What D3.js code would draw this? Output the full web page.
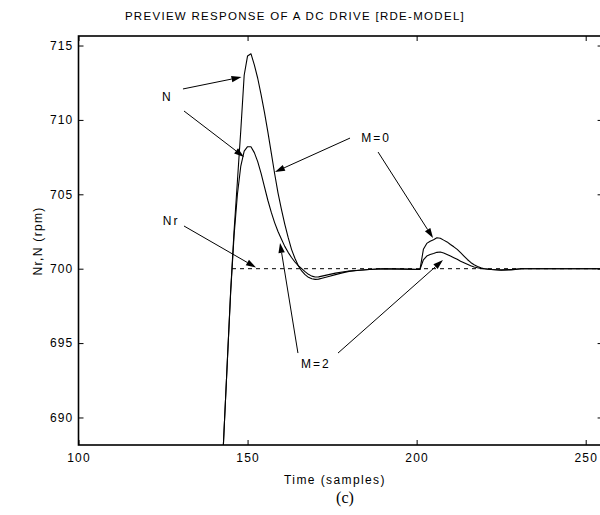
<!DOCTYPE html>
<html>
<head>
<meta charset="utf-8">
<script src="https://cdn.jsdelivr.net/npm/d3@7"></script>
<style>
  body { margin: 0; background: #fff; }
  text { font-family: "Liberation Sans", Arial, sans-serif; fill: #000; }
</style>
</head>
<body>
<svg id="chart" width="600" height="515"></svg>
<script>
// Sample instants (samples) shared by both responses
const sampleTimes = [136, 138, 140, 142, 143, 144, 145, 146, 147, 148, 149, 150, 151, 152, 153, 154, 155, 156, 157, 158, 159, 160,
  161, 162, 163, 164, 165, 166, 167, 168, 169, 170, 171, 172, 174, 176, 178, 180, 183, 186, 190, 196, 201, 202, 203, 204, 205,
  206, 207, 208, 209, 210, 211, 212, 213, 214, 215, 216, 217, 218, 219, 220, 222, 225, 228, 231, 255];

// Motor speed N (rpm), preview horizon M = 0
const speedM0 = [655, 665, 675, 684.0, 688.9, 693.7, 698.5, 702.5, 705.9, 709.3, 713.0, 714.3, 714.45, 713.7, 712.8, 711.7, 710.5,
  709.2, 707.8, 706.4, 705.1, 704.0, 703.0, 702.1, 701.3, 700.7, 700.2, 699.85, 699.6, 699.42, 699.32, 699.28, 699.3, 699.36,
  699.48, 699.6, 699.72, 699.82, 699.9, 699.95, 700.0, 699.97, 699.95, 701.3, 701.7, 701.85, 701.95, 702.08, 702.05, 701.92,
  701.8, 701.63, 701.47, 701.3, 701.08, 700.85, 700.62, 700.42, 700.27, 700.15, 700.06, 700.0, 699.95, 699.9, 699.92, 700.0, 700.0];

// Motor speed N (rpm), preview horizon M = 2
const speedM2 = [655, 665, 675, 684.0, 688.9, 693.7, 698.4, 702.2, 705.0, 706.9, 707.9, 708.2, 708.2, 707.8, 707.2, 706.4, 705.5,
  704.6, 703.8, 703.1, 702.5, 702.0, 701.5, 701.1, 700.75, 700.45, 700.2, 700.0, 699.8, 699.62, 699.5, 699.44, 699.45, 699.5,
  699.6, 699.7, 699.78, 699.85, 699.9, 699.95, 700.0, 699.98, 699.95, 700.6, 700.85, 700.95, 701.02, 701.1, 701.12, 701.06,
  700.96, 700.85, 700.74, 700.63, 700.5, 700.4, 700.3, 700.2, 700.12, 700.06, 700.02, 700.0, 699.95, 699.92, 699.95, 700.0, 700.0];

// Speed reference Nr (rpm)
const refTimes = [145.4, 255];
const refSpeed = [700, 700];

const xTickValues = [100, 150, 200, 250];
const yTickValues = [690, 695, 700, 705, 710, 715];

// Callouts: label text with its anchor, arrows in (samples, rpm)
const calloutLabels = ["N", "Nr", "M=0", "M=2"];
const labelTime = [126.3, 127.4, 188.0, 170.2];
const labelSpeed = [711.54, 703.21, 708.78, 693.6];
const arrowFromTime = [130.9, 131.2, 131.2, 180.3, 188.6, 164.9, 176.75];
const arrowFromSpeed = [712.08, 710.6, 702.87, 708.78, 707.84, 694.33, 694.33];
const arrowToTime = [148.2, 148.95, 152.5, 158.1, 204.85, 159.6, 207.8];
const arrowToSpeed = [712.88, 707.51, 700.08, 706.5, 702.06, 701.73, 700.58];

const svg = d3.select("#chart");
svg.append("rect").attr("width", 600).attr("height", 515).attr("fill", "#fff");

const plotLeft = 78.5, plotRight = 602.6, plotTop = 36, plotBottom = 445;
const x = d3.scaleLinear().domain([100, 255]).range([plotLeft, plotRight]);
const y = d3.scaleLinear().domain([688.15, 715.64]).range([plotBottom, plotTop]);

svg.append("clipPath").attr("id", "plotClip")
  .append("rect").attr("x", plotLeft).attr("y", plotTop)
  .attr("width", plotRight - plotLeft).attr("height", plotBottom - plotTop);

const plot = svg.append("g").attr("clip-path", "url(#plotClip)");

const line = d3.line().x(d => x(d[0])).y(d => y(d[1]));

const refPts = refTimes.map((t, i) => [t, refSpeed[i]]);
plot.append("path").attr("d", line(refPts))
  .attr("fill", "none").attr("stroke", "#000").attr("stroke-width", 1).attr("stroke-dasharray", "4,4");

[speedM0, speedM2].forEach(series => {
  const pts = sampleTimes.map((t, i) => [t, series[i]]);
  plot.append("path").attr("d", line(pts))
    .attr("fill", "none").attr("stroke", "#000").attr("stroke-width", 1.1)
    .attr("stroke-linejoin", "round");
});

// Axes box with inward ticks on all four sides
const axisW = 1.6;
const tickLen = 5;
const axisG = svg.append("g");
const bottomAxis = d3.axisBottom(x).tickValues(xTickValues).tickSize(-tickLen).tickPadding(8).tickFormat(d3.format("d"));
const topAxis = d3.axisTop(x).tickValues(xTickValues).tickSize(-tickLen).tickFormat("");
const leftAxis = d3.axisLeft(y).tickValues(yTickValues).tickSize(-tickLen).tickPadding(5).tickFormat(d3.format("d"));
const rightAxis = d3.axisRight(y).tickValues(yTickValues).tickSize(-tickLen).tickFormat("");

function styleAxis(g) {
  g.select(".domain").remove();
  g.selectAll(".tick line").attr("stroke", "#000").attr("stroke-width", 1);
  g.selectAll(".tick text").attr("font-size", 12).attr("letter-spacing", "1.2px")
    .attr("font-family", "Liberation Sans, Arial, sans-serif").attr("fill", "#000");
}
axisG.append("g").attr("transform", `translate(0,${plotBottom})`).call(bottomAxis).call(styleAxis);
axisG.append("g").attr("transform", `translate(0,${plotTop})`).call(topAxis).call(styleAxis);
axisG.append("g").attr("transform", `translate(${plotLeft},0)`).call(leftAxis).call(styleAxis);
axisG.append("g").attr("transform", `translate(${plotRight},0)`).call(rightAxis).call(styleAxis);

axisG.append("rect").attr("x", plotLeft).attr("y", plotTop)
  .attr("width", plotRight - plotLeft).attr("height", plotBottom - plotTop)
  .attr("fill", "none").attr("stroke", "#000").attr("stroke-width", axisW);

// Titles
svg.append("text").attr("x", 295).attr("y", 20).attr("text-anchor", "middle")
  .attr("font-size", 11.5).attr("letter-spacing", "1.3px")
  .text("PREVIEW RESPONSE OF A DC DRIVE [RDE-MODEL]");

svg.append("text").attr("x", 335).attr("y", 484).attr("text-anchor", "middle")
  .attr("font-size", 12).attr("letter-spacing", "1.4px")
  .text("Time (samples)");

svg.append("text").attr("transform", "translate(42,241) rotate(-90)").attr("text-anchor", "middle")
  .attr("font-size", 12).attr("letter-spacing", "1.3px")
  .text("Nr,N (rpm)");

svg.append("text").attr("x", 345).attr("y", 503).attr("text-anchor", "middle")
  .style("font-family", "'Liberation Serif', 'Times New Roman', serif").attr("font-size", 16)
  .text("(c)");

// Callout labels
calloutLabels.forEach((lbl, i) => {
  svg.append("text").attr("x", x(labelTime[i])).attr("y", y(labelSpeed[i]))
    .attr("text-anchor", "middle").attr("dominant-baseline", "central")
    .attr("font-size", 12).attr("letter-spacing", "2px")
    .text(lbl);
});

// Callout arrows with filled heads
const headLen = 10, headHalf = 3.2;
arrowFromTime.forEach((t0, i) => {
  const x0 = x(t0), y0 = y(arrowFromSpeed[i]);
  const x1 = x(arrowToTime[i]), y1 = y(arrowToSpeed[i]);
  const dx = x1 - x0, dy = y1 - y0, L = Math.hypot(dx, dy);
  const ux = dx / L, uy = dy / L;
  const bx = x1 - ux * headLen, by = y1 - uy * headLen;
  svg.append("line").attr("x1", x0).attr("y1", y0).attr("x2", bx).attr("y2", by)
    .attr("stroke", "#000").attr("stroke-width", 1);
  svg.append("path")
    .attr("d", `M${x1},${y1}L${bx - uy * headHalf},${by + ux * headHalf}L${bx + uy * headHalf},${by - ux * headHalf}Z`)
    .attr("fill", "#000");
});
</script>
</body>
</html>
